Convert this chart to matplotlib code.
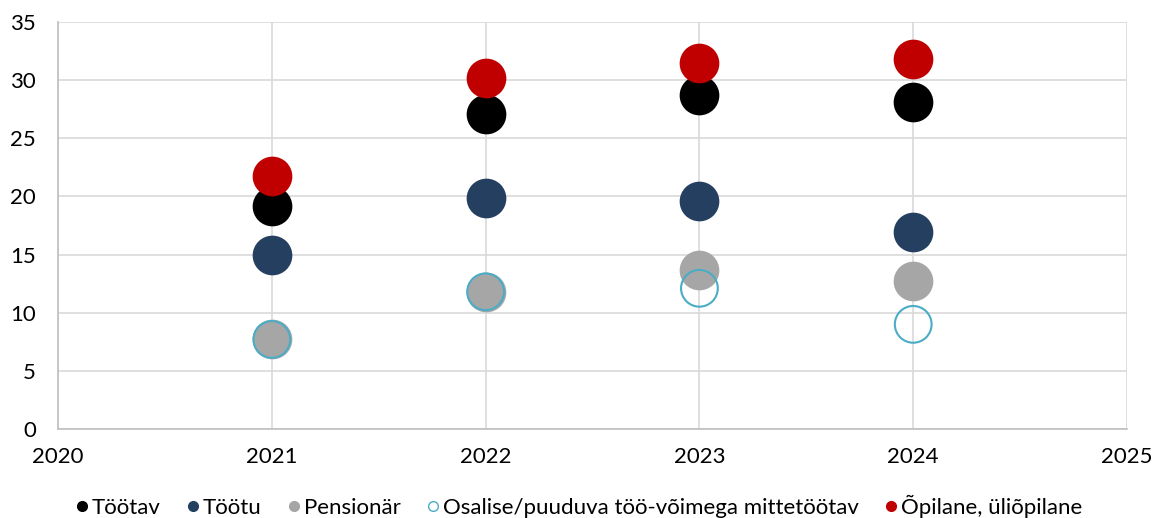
import numpy as np
import matplotlib.pyplot as plt
from matplotlib.lines import Line2D

plt.rcParams['font.family'] = ['Lato', 'DejaVu Sans']

years = [2021, 2022, 2023, 2024]
tootav = [19.2, 27.1, 28.7, 28.1]
tootu = [15.0, 19.9, 19.6, 16.9]
pensionar = [7.7, 11.8, 13.7, 12.7]
osalise = [7.7, 11.8, 12.1, 9.0]
opilane = [21.8, 30.2, 31.5, 31.8]

labels = ["Töötav", "Töötu", "Pensionär",
          "Osalise/puuduva töö-võimega mittetöötav", "Õpilane, üliõpilane"]

fig = plt.figure(figsize=(11.54, 5.18), dpi=100)
ax = fig.add_axes([0.0503, 0.1718, 0.9263, 0.7857])

size = 760
ax.scatter(years, tootav, s=size, color="#000000", zorder=3)
ax.scatter(years, tootu, s=size, color="#243f60", zorder=3)
ax.scatter(years, pensionar, s=size, color="#a6a6a6", zorder=3)
ax.scatter(years, osalise, s=size - 60, facecolors="none",
           edgecolors="#4bacc6", linewidths=1.5, zorder=3)
ax.scatter(years, opilane, s=size, color="#c00000", zorder=3)

ax.set_xlim(2020, 2025)
ax.set_ylim(0, 35)
ax.set_xticks(np.arange(2020, 2026, 1))
ax.set_yticks(np.arange(0, 36, 5))
ax.grid(True, color="#d9d9d9", linewidth=1.2)
ax.set_axisbelow(True)

for side in ["top", "right"]:
    ax.spines[side].set_visible(False)
ax.spines["left"].set_color("#bfbfbf")
ax.spines["bottom"].set_color("#bfbfbf")
ax.spines["left"].set_linewidth(1.2)
ax.spines["bottom"].set_linewidth(1.2)
ax.tick_params(length=0, labelsize=16, colors="#000000")
ax.tick_params(axis="y", pad=16)
ax.tick_params(axis="x", pad=13)

handles = [
    Line2D([], [], marker="o", linestyle="none", markersize=7,
           color="#000000"),
    Line2D([], [], marker="o", linestyle="none", markersize=7,
           color="#243f60"),
    Line2D([], [], marker="o", linestyle="none", markersize=7,
           color="#a6a6a6"),
    Line2D([], [], marker="o", linestyle="none", markersize=7,
           markerfacecolor="none", markeredgecolor="#4bacc6"),
    Line2D([], [], marker="o", linestyle="none", markersize=7,
           color="#c00000"),
]
fig.legend(handles, labels, loc="center", bbox_to_anchor=(0.5, 0.022),
           ncol=5, frameon=False, fontsize=16, handletextpad=0.0,
           columnspacing=1.0, handlelength=0.9)

fig.savefig("out.png", dpi=100)
